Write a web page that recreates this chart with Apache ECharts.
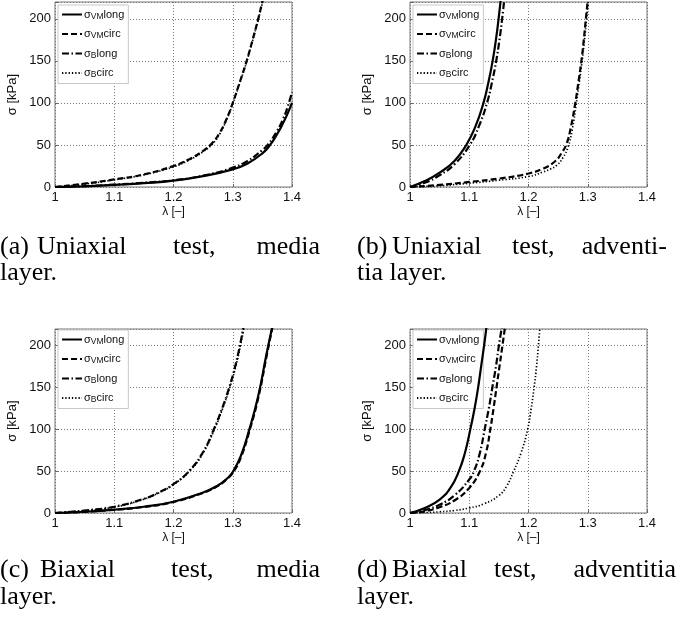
<!DOCTYPE html>
<html><head><meta charset="utf-8">
<script src="https://cdn.jsdelivr.net/npm/echarts@6/dist/echarts.min.js"></script>
<style>html,body{margin:0;padding:0;background:#fff}#c{width:677px;height:624px}</style>
</head><body><div id="c"></div>
<script>
// ---- data: [lambda, sigma kPa] pairs ----
const seriesNames = ['σVMlong', 'σVMcirc', 'σBlong', 'σBcirc'];
const xTicks = [1, 1.1, 1.2, 1.3, 1.4];
const yTicks = [0, 50, 100, 150, 200];

// (a) Uniaxial, media
const a_VMlong = [[1,0],[1.05,0.8],[1.1,2.5],[1.15,4.5],[1.2,7.5],[1.25,13],[1.3,21],[1.325,28],[1.35,40],[1.363,50],[1.375,63],[1.385,76],[1.393,88],[1.4,100]];
const a_VMcirc = [[1,0],[1.05,4],[1.1,9],[1.15,15],[1.2,25],[1.225,32.5],[1.25,43],[1.265,52],[1.2775,64],[1.289,80],[1.3,100],[1.312,125],[1.3235,150],[1.3335,175],[1.343,200],[1.3505,222]];
const a_Blong  = [[1,0],[1.05,1],[1.1,2.8],[1.15,5],[1.2,8],[1.25,13.5],[1.3,23],[1.325,31],[1.35,44],[1.36,51],[1.375,67],[1.385,81],[1.393,96],[1.4,113]];
const a_Bcirc  = [[1,0],[1.05,3.5],[1.1,8.5],[1.15,14.5],[1.2,24],[1.225,31.5],[1.25,42],[1.2655,51],[1.278,63],[1.289,79],[1.3,99],[1.312,124],[1.3235,149],[1.3335,174],[1.343,199],[1.351,222]];
// (b) Uniaxial, adventitia
const b_VMlong = [[1,0],[1.025,7],[1.05,17],[1.075,31],[1.095,50],[1.1105,72],[1.124,100],[1.1325,125],[1.1395,150],[1.145,175],[1.1495,200],[1.153,222]];
const b_VMcirc = [[1,0],[1.05,2.5],[1.1,6],[1.15,10],[1.2,16],[1.225,22],[1.244,30],[1.2555,40],[1.2645,52],[1.2712,70],[1.279,100],[1.2843,125],[1.2893,150],[1.2933,175],[1.2968,200],[1.3,222]];
const b_Blong  = [[1,0],[1.025,5],[1.05,14],[1.075,27],[1.1009,50],[1.1162,72],[1.13,100],[1.1385,125],[1.1455,150],[1.151,175],[1.1555,200],[1.159,222]];
const b_Bcirc  = [[1,0],[1.05,1.5],[1.1,4.5],[1.15,8],[1.2,12.5],[1.225,18],[1.237,21.5],[1.248,26],[1.2582,35],[1.2665,47],[1.2738,68],[1.2808,100],[1.2857,125],[1.2905,150],[1.2945,175],[1.298,200],[1.301,222]];
// (c) Biaxial, media
const c_VMlong = [[1,0],[1.05,1.5],[1.1,4],[1.15,7.5],[1.2,13.5],[1.25,24.5],[1.275,33],[1.29,41],[1.3,49],[1.3135,68],[1.328,100],[1.343,140],[1.357,190],[1.3665,222]];
const c_VMcirc = [[1,0],[1.05,1.4],[1.1,3.8],[1.15,7.2],[1.2,13.2],[1.25,24],[1.275,32.5],[1.29,40.5],[1.3005,48.5],[1.314,67],[1.3285,99],[1.3435,139],[1.3575,189],[1.367,222]];
const c_Blong  = [[1,0],[1.05,3],[1.1,7.5],[1.15,17],[1.175,24.5],[1.2,34.5],[1.226,50],[1.25,73],[1.268,100],[1.282,125],[1.294,150],[1.304,175],[1.312,200],[1.318,222]];
const c_Bcirc  = [[1,0],[1.05,2.8],[1.1,7],[1.15,16.5],[1.175,24],[1.2,34],[1.227,50],[1.251,73],[1.269,100],[1.283,125],[1.295,150],[1.305,175],[1.313,200],[1.319,222]];
// (d) Biaxial, adventitia
const d_VMlong = [[1,0],[1.025,6],[1.05,16],[1.069,31],[1.0825,50],[1.0928,72],[1.1018,100],[1.109,125],[1.115,150],[1.12,175],[1.125,200],[1.129,222]];
const d_VMcirc = [[1,0],[1.025,2],[1.05,7],[1.075,15],[1.1,30],[1.118,50],[1.1283,72],[1.1355,100],[1.141,125],[1.146,150],[1.151,175],[1.156,200],[1.1603,222]];
const d_Blong  = [[1,0],[1.025,3.5],[1.05,10],[1.075,21],[1.1,40],[1.108,50],[1.118,72],[1.126,100],[1.133,125],[1.139,150],[1.145,175],[1.15,200],[1.155,222]];
const d_Bcirc  = [[1,0],[1.03,0.5],[1.05,1.5],[1.075,3],[1.1,6],[1.125,11],[1.15,21],[1.163,32],[1.175,50],[1.1875,72],[1.1985,100],[1.2045,125],[1.2095,150],[1.2135,175],[1.2167,200],[1.2192,222]];

const panels = [
  [a_VMlong, a_VMcirc, a_Blong, a_Bcirc],
  [b_VMlong, b_VMcirc, b_Blong, b_Bcirc],
  [c_VMlong, c_VMcirc, c_Blong, c_Bcirc],
  [d_VMlong, d_VMcirc, d_Blong, d_Bcirc]
];

// ---- layout / style ----
const grids = [
  {left: 55, top: 2, width: 237, height: 185},
  {left: 410, top: 2, width: 237, height: 185},
  {left: 55, top: 329, width: 237, height: 184},
  {left: 410, top: 329, width: 237, height: 184}
];
const legendPos = [[58,5],[413,5],[58,330],[413,330]];
const dashes = ['solid', [6,3], [7,2.5,1.5,2.5], [1.3,2]];
const SANS = '"Liberation Sans", Arial, sans-serif';
const SERIF = '"Liberation Serif", "DejaVu Serif", serif';

const xAxis = grids.map((g, i) => ({
  gridIndex: i, type: 'value', min: 1, max: 1.4, interval: 0.1,
  axisLine: {show: false}, axisTick: {show: true, inside: true, length: 3, lineStyle: {color: '#666'}},
  splitLine: {show: true, lineStyle: {color: '#777', type: [1, 2], width: 1}},
  axisLabel: {color: '#111', fontSize: 13, fontFamily: SANS, margin: 4,
    formatter: v => xTicks.some(t => Math.abs(t - v) < 1e-6) ? String(+v.toFixed(1)) : ''},
  name: 'λ [–]', nameLocation: 'middle', nameGap: 19,
  nameTextStyle: {color: '#111', fontSize: 12, fontFamily: SANS}
}));
const yAxis = grids.map((g, i) => ({
  gridIndex: i, type: 'value', min: 0, max: 220, interval: 50,
  axisLine: {show: false}, axisTick: {show: true, inside: true, length: 3, lineStyle: {color: '#666'}},
  splitLine: {show: true, lineStyle: {color: '#777', type: [1, 2], width: 1}},
  axisLabel: {color: '#111', fontSize: 13, fontFamily: SANS, margin: 4,
    formatter: v => yTicks.indexOf(v) >= 0 ? String(v) : ''},
  name: 'σ [kPa]', nameLocation: 'middle', nameGap: 36,
  nameTextStyle: {color: '#111', fontSize: 13, fontFamily: SANS}
}));

const series = [];
panels.forEach((p, i) => {
  p.forEach((data, k) => {
    series.push({
      type: 'line', name: seriesNames[k], xAxisIndex: i, yAxisIndex: i,
      data: data, symbol: 'none', showSymbol: false, smooth: 0.5, clip: true,
      lineStyle: {color: '#000', width: k === 3 ? 1.7 : 2.2, type: dashes[k]},
      itemStyle: {color: '#000'}, z: 5 - k, silent: true
    });
  });
});

const legend = legendPos.map(([l, t]) => ({
  orient: 'vertical', left: l, top: t, itemWidth: 20, itemHeight: 8, itemGap: 7.5,
  padding: [4, 4, 4, 3], borderColor: '#c8c8c8', borderWidth: 1, backgroundColor: '#fff',
  selectedMode: false, data: seriesNames,
  itemStyle: {opacity: 0},
  formatter: n => '{s|σ}{sub|' + (n.indexOf('VM') >= 0 ? 'VM' : 'B') + '}{s|' + (n.indexOf('long') >= 0 ? 'long' : 'circ') + '}',
  textStyle: {
    fontFamily: SANS, fontSize: 11, color: '#111', padding: [0, 0, 0, -3],
    rich: {
      s: {fontSize: 11, fontFamily: SANS, color: '#111', lineHeight: 13, verticalAlign: 'middle'},
      sub: {fontSize: 8.5, fontFamily: SANS, color: '#111', lineHeight: 13, verticalAlign: 'bottom'}
    }
  }
}));

// captions (words placed to imitate justified LaTeX text)
function word(t, x, y, right) {
  return {type: 'text', x: x, y: y, silent: true,
    style: {text: t, fill: '#000', font: '26px ' + SERIF, align: right ? 'right' : 'left', verticalAlign: 'middle'}};
}
const graphic = [
  word('(a)', 0, 247), word('Uniaxial', 37, 247), word('test,', 173, 247), word('media', 320, 247, true), word('layer.', 0, 273),
  word('(b)', 357, 247), word('Uniaxial', 392, 247), word('test,', 512, 247), word('adventi-', 667, 247, true), word('tia layer.', 357, 273),
  word('(c)', 0, 570), word('Biaxial', 40, 570), word('test,', 171, 570), word('media', 320, 570, true), word('layer.', 0, 597),
  word('(d)', 357, 570), word('Biaxial', 392, 570), word('test,', 494, 570), word('adventitia', 676, 570, true), word('layer.', 357, 597)
];

const chart = echarts.init(document.getElementById('c'), null, {renderer: 'canvas'});
chart.setOption({
  animation: false, backgroundColor: '#fff',
  grid: grids.map(g => Object.assign({show: true, borderColor: '#777', borderWidth: 1, backgroundColor: 'transparent'}, g)),
  xAxis: xAxis, yAxis: yAxis, series: series, legend: legend, graphic: graphic
});
</script>
</body></html>
